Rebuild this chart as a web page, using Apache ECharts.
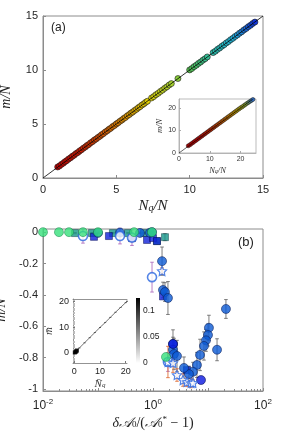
<!DOCTYPE html>
<html><head><meta charset="utf-8">
<script src="https://cdn.jsdelivr.net/npm/echarts@6/dist/echarts.min.js"></script>
<style>html,body{margin:0;padding:0;background:#fff}#c{width:291px;height:435px}</style>
</head><body><div id="c"></div>
<script>
// ---------- Panel (a) main: m/N vs Nq/N ----------
var aNq = [1.0,1.12,1.25,1.38,1.5,1.62,1.75,1.88,2.0,2.12,2.25,2.38,2.5,2.62,2.75,2.88,3.0,3.12,3.25,3.38,3.5,3.62,3.75,3.88,4.0,4.12,4.25,4.38,4.5,4.62,4.75,4.88,5.0,5.12,5.25,5.38,5.5,5.62,5.75,5.88,6.0,6.12,6.25,6.38,6.5,6.62,6.75,6.88,7.0,7.12,
  7.4,7.55,7.7,7.85,8.0,8.15,8.3,8.45,8.6,8.75,
  9.2,
  10.0,10.15,10.3,10.45,10.6,10.75,10.9,11.05,11.2,
  11.6,11.75,11.9,12.05,12.2,12.35,12.5,12.65,12.8,12.95,13.1,13.25,13.4,13.55,13.7,13.85,14.0,14.15,14.3,14.45];
var aM = [1.02,1.11,1.26,1.37,1.51,1.61,1.76,1.87,2.01,2.11,2.26,2.37,2.51,2.61,2.76,2.87,3.01,3.11,3.26,3.37,3.51,3.61,3.76,3.87,4.01,4.11,4.26,4.37,4.51,4.61,4.76,4.87,5.01,5.11,5.26,5.37,5.51,5.61,5.76,5.87,6.01,6.11,6.26,6.37,6.51,6.61,6.76,6.87,7.01,7.11,
  7.41,7.54,7.71,7.84,8.01,8.14,8.31,8.44,8.61,8.74,
  9.21,
  10.01,10.14,10.31,10.44,10.61,10.74,10.91,11.04,11.21,
  11.61,11.74,11.91,12.04,12.21,12.34,12.51,12.64,12.81,12.94,13.11,13.24,13.41,13.54,13.71,13.84,14.01,14.14,14.31,14.44];
var aLine = [[0,0],[15,15]];
// ---------- Panel (a) inset ----------
var aInNq = [3.0,3.5,4.0,4.5,5.0,5.5,6.0,6.5,7.0,7.5,8.0,8.5,9.0,9.5,10.0,10.5,11.0,11.5,12.0,12.5,13.0,13.5,14.0,14.5,15.0,15.5,16.0,16.5,17.0,17.5,18.0,18.5,19.0,19.5,20.0,20.5,21.0,21.5,22.0,22.5,23.0,23.5,24.0,24.5];
var aInM  = [3.2,3.6,4.1,4.6,5.1,5.6,6.1,6.6,7.1,7.6,8.1,8.6,9.1,9.6,10.1,10.6,11.1,11.6,12.1,12.6,13.1,13.6,14.1,14.6,15.1,15.6,16.1,16.6,17.1,17.6,18.1,18.6,19.1,19.6,20.1,20.5,21.0,21.5,22.0,22.4,22.9,23.3,23.8,24.2];
var aInLine = [[0,0],[25,25]];
// ---------- Panel (b) main: m/N vs dA0/(A0*-1) ----------
var greenX = [0.01,0.0195,0.0297,0.0533,0.1,0.452,0.955,1.72];
var greenY = [0,0,0,0,0,0,0,-0.796];
var tealX = [0.0382,0.0778,0.187,0.351,0.686,1.18,1.65];
var tealY = [-0.006,-0.006,-0.006,-0.006,-0.006,-0.057,-0.032];
var tealE = [0.004,0.004,0.004,0.004,0.004,0.01,0.022];
var blueX = [0.1,0.251,0.58,0.88,0.96,1.46,1.52,1.65,1.87,21.2,10.4,14.6,10.0,9.2,8.45,7.16,6.3,5.34,4.5,3.66,2.31,2.31,2.41,2.73];
var blueY = [-0.005,-0.003,-0.005,-0.004,0.0,-0.185,-0.369,-0.382,-0.42,-0.49,-0.61,-0.75,-0.656,-0.69,-0.726,-0.783,-0.847,-0.89,-0.905,-0.866,-0.713,-0.75,-0.777,-0.79];
var blueE = [0.005,0.005,0.005,0.005,0.005,0.09,0.05,0.06,0.105,0.06,0.08,0.07,0.07,0.07,0.09,0.1,0.08,0.06,0.05,0.07,0.09,0.08,0.1,0.1];
var navyX = [0.0845,0.158,0.415,0.778,1.0,1.18,1.52,4.15];
var navyY = [-0.03,-0.025,-0.038,-0.05,-0.038,-0.057,-0.41,-0.88];
var navyCX = [7.46,2.31];
var navyCY = [-0.943,-0.713];
var openX = [0.0533,0.251,0.415,0.96,1.87];
var openY = [-0.025,-0.025,-0.035,-0.287,-0.828];
var openE = [0.045,0.05,0.05,0.095,0.06];
var starX = [1.46,1.87,2.31,2.73,3.51,4.15,4.91,5.34];
var starY = [-0.248,-0.828,-0.834,-0.911,-0.943,-0.955,-0.962,-0.962];
var starE = [0.02,0.1,0.06,0.04,0.04,0.03,0.03,0.02];
// ---------- Panel (b) inset ----------
var bInNq = [0.2,0.5,0.8,1.0];
var bInM = [0.1,0.3,0.6,0.9];
var bInLineX = [0,2,4,6,8,10,12,14,16,18,20,20.5];
var bInLineY = [0,1.9,3.9,5.9,7.9,9.9,11.8,13.8,15.8,17.7,19.6,20.1];
var cbarMax = [0.125];

function pairs(x,y){return x.map(function(v,i){return [v,y[i]];});}
function errs(x,y,e){return x.map(function(v,i){return [v,y[i]-e[i],y[i]+e[i]];});}

var chart = echarts.init(document.getElementById('c'), null, {renderer:'canvas'});
var TICK = '#262626', AXC = '#8c8c8c';
var serif = 'Liberation Serif';
var sans = 'Liberation Sans';

function errRender(color){
  return function(params, api){
    var x = api.value(0), lo = api.value(1), hi = api.value(2);
    var p1 = api.coord([x, lo]), p2 = api.coord([x, hi]);
    var w = 1.8;
    var st = {stroke: color, lineWidth: 0.9};
    return {type:'group', children:[
      {type:'line', shape:{x1:p1[0],y1:p1[1],x2:p2[0],y2:p2[1]}, style:st},
      {type:'line', shape:{x1:p1[0]-w,y1:p1[1],x2:p1[0]+w,y2:p1[1]}, style:st},
      {type:'line', shape:{x1:p2[0]-w,y1:p2[1],x2:p2[0]+w,y2:p2[1]}, style:st}
    ]};
  };
}
function errSeries(x,y,e,color){
  return {type:'custom', xAxisIndex:2, yAxisIndex:2, renderItem: errRender(color), data: errs(x,y,e), encode:{x:0,y:[1,2]}, z:2, clip:false, silent:true};
}
var STAR = 'path://M0,-10L2.9,-4L9.5,-3.1L4.8,1.5L5.9,8.1L0,5L-5.9,8.1L-4.8,1.5L-9.5,-3.1L-2.9,-4Z';

function mainAxis(o){
  var base = {
    axisLine:{show:true, onZero:false, lineStyle:{color:AXC, width:1}},
    axisTick:{show:true, inside:true, length:3, lineStyle:{color:AXC}},
    axisLabel:{color:TICK, fontFamily:sans, fontSize:11},
    splitLine:{show:false}
  };
  for (var k in o) base[k] = o[k];
  return base;
}
var richMain = {
  i:{fontFamily:serif, fontStyle:'italic', fontSize:15, color:'#222', padding:[0,0,3,0]},
  s:{fontFamily:serif, fontStyle:'italic', fontSize:10, color:'#222'}
};
var richSmall = {
  i:{fontFamily:serif, fontStyle:'italic', fontSize:8.5, color:'#333', padding:[0,0,2,0]},
  s:{fontFamily:serif, fontStyle:'italic', fontSize:6, color:'#333'}
};
var richB = {
  i:{fontFamily:serif, fontStyle:'italic', fontSize:14, color:'#222', padding:[0,0,3,0]},
  r:{fontFamily:serif, fontSize:14, color:'#222', padding:[0,0,3,0]},
  s:{fontFamily:serif, fontSize:9, color:'#222'},
  p:{fontFamily:serif, fontSize:9, color:'#222', padding:[0,0,10,0]}
};
var yName = {fontFamily:serif, fontStyle:'italic', fontSize:14, color:'#222'};

var option = {
  animation:false,
  backgroundColor:'#fff',
  grid:[
    {left:43, top:16, width:220, height:162, show:true, borderColor:AXC, borderWidth:1, containLabel:false, outerBoundsMode:'none'},
    {left:179, top:99, width:77, height:54, show:true, borderColor:'#aaa', borderWidth:0.8, backgroundColor:'#fff', containLabel:false, outerBoundsMode:'none'},
    {left:43, top:229, width:220, height:162, show:true, borderColor:AXC, borderWidth:1, containLabel:false, outerBoundsMode:'none'},
    {left:73, top:299, width:54, height:64, show:false, containLabel:false, outerBoundsMode:'none'},
    {left:136, top:298, width:4, height:65, show:false, containLabel:false, outerBoundsMode:'none'}
  ],
  visualMap:[
    {type:'continuous', show:false, seriesIndex:0, dimension:0, min:1, max:14.5,
     inRange:{color:['#c80000','#d41800','#dc5400','#e69200','#e6d000','#b4d428','#58c450','#2cc0a8','#22b4dc','#1030d8']}},
    {type:'continuous', show:false, seriesIndex:2, dimension:0, min:3, max:24.5,
     inRange:{color:['#c00000','#c00000','#c01000','#c02c00','#c05000','#c07800','#b8a000','#80a030','#2060e0']}}
  ],
  graphic:[
    {type:'text', left:51, top:22, style:{text:'(a)', font:'12px "Liberation Sans"', fill:'#222'}},
    {type:'text', left:238, top:236, style:{text:'(b)', font:'13px "Liberation Sans"', fill:'#222'}}
  ],
  xAxis:[
    mainAxis({gridIndex:0, type:'value', min:0, max:15, interval:5, axisLabel:{color:TICK, fontFamily:sans, fontSize:11, margin:6},
      name:'{i|N}{s|q}{i|/N}', nameLocation:'middle', nameGap:21, nameTextStyle:{rich:richMain}}),
    mainAxis({gridIndex:1, type:'value', min:0, max:25, axisLine:{show:true,onZero:false,lineStyle:{color:'#aaa',width:0.8}},
      axisTick:{show:true, inside:true, length:2, lineStyle:{color:'#aaa'}, customValues:[0,10,20]},
      axisLabel:{color:'#333', fontFamily:sans, fontSize:7, margin:3, customValues:[0,10,20]},
      name:'{i|N}{s|q}{i|/N}', nameLocation:'middle', nameGap:13, nameTextStyle:{rich:richSmall}}),
    mainAxis({gridIndex:2, type:'log', min:0.01, max:100, logBase:10,
      axisTick:{show:true, inside:true, length:3, lineStyle:{color:AXC}},
      minorTick:{show:true, splitNumber:9, length:2, lineStyle:{color:AXC}},
      axisLabel:{color:TICK, fontFamily:sans, fontSize:11, margin:7,
        formatter:function(v){var e=Math.round(Math.log10(v)); if(e%2!==0) return ''; return '{b|10}{e|'+e+'}';},
        rich:{b:{fontFamily:sans, fontSize:12, color:TICK}, e:{fontFamily:sans, fontSize:8, color:TICK, padding:[0,0,8,0]}}},
      name:'{i|δ𝒜}{s|0}{r|/(}{i|𝒜}{s|0}{p|*}{r| − 1)}', nameLocation:'middle', nameGap:24, nameTextStyle:{rich:richB}}),
    mainAxis({gridIndex:3, type:'value', min:-0.5, max:20.5,
      axisLine:{show:true,onZero:false,lineStyle:{color:'#777',width:0.8}},
      axisTick:{show:true, inside:true, length:2, lineStyle:{color:'#777'}, customValues:[0,10,20]},
      axisLabel:{color:'#222', fontFamily:sans, fontSize:9, margin:4, customValues:[0,10,20]},
      name:'{i|N̄}{s|q}', nameLocation:'middle', nameGap:16, nameTextStyle:{rich:{i:{fontFamily:serif,fontStyle:'italic',fontSize:11,color:'#333',padding:[0,0,2,0]}, s:{fontFamily:serif,fontStyle:'italic',fontSize:7,color:'#333'}}}}),
    {gridIndex:4, type:'category', data:['c'], show:false},
    {gridIndex:3, type:'value', position:'top', min:-0.5, max:20.5, axisLine:{show:true,onZero:false,lineStyle:{color:'#777',width:0.8}}, axisTick:{show:false}, axisLabel:{show:false}, splitLine:{show:false}}
  ],
  yAxis:[
    mainAxis({gridIndex:0, type:'value', min:0, max:15, interval:5, axisLabel:{color:TICK, fontFamily:sans, fontSize:11, margin:5},
      name:'m/N', nameLocation:'middle', nameGap:30, nameRotate:90, nameTextStyle:yName}),
    mainAxis({gridIndex:1, type:'value', min:0, max:24, axisLine:{show:true,onZero:false,lineStyle:{color:'#aaa',width:0.8}},
      axisTick:{show:true, inside:true, length:2, lineStyle:{color:'#aaa'}, customValues:[0,10,20]},
      axisLabel:{color:'#333', fontFamily:sans, fontSize:7, margin:3, customValues:[0,10,20]},
      name:'m/N', nameLocation:'middle', nameGap:12, nameRotate:90, nameTextStyle:{fontFamily:serif, fontStyle:'italic', fontSize:8.5, color:'#333'}}),
    mainAxis({gridIndex:2, type:'value', min:-1.013, max:0.02,
      axisTick:{show:true, inside:true, length:3, lineStyle:{color:AXC}, customValues:[-1,-0.8,-0.6,-0.4,-0.2,0]},
      axisLabel:{color:TICK, fontFamily:sans, fontSize:11, margin:5, customValues:[-1,-0.8,-0.6,-0.4,-0.2,0]},
      name:'m/N', nameLocation:'middle', nameGap:32, nameRotate:90, nameTextStyle:yName}),
    mainAxis({gridIndex:3, type:'value', min:-4, max:21,
      axisLine:{show:true,onZero:false,lineStyle:{color:'#777',width:0.8}},
      axisTick:{show:true, inside:true, length:2, lineStyle:{color:'#777'}, customValues:[0,10,20]},
      minorTick:{show:true, splitNumber:10, length:2, lineStyle:{color:'#bbb'}},
      axisLabel:{color:'#222', fontFamily:sans, fontSize:9, margin:4, customValues:[0,10,20]},
      name:'m̄', nameLocation:'middle', nameGap:17, nameRotate:90, nameTextStyle:{fontFamily:serif, fontStyle:'italic', fontSize:11, color:'#333'}}),
    {gridIndex:4, type:'value', min:0, max:0.125, position:'right',
      axisLine:{show:false}, axisTick:{show:false}, splitLine:{show:false},
      axisLabel:{color:'#222', fontFamily:sans, fontSize:8.5, margin:3, customValues:[0,0.05,0.1]}}
  ],
  series:[
    {type:'scatter', xAxisIndex:0, yAxisIndex:0, data:pairs(aNq,aM), symbolSize:6, itemStyle:{borderColor:'#1a1a1a', borderWidth:0.6, opacity:1}, z:3},
    {type:'line', xAxisIndex:0, yAxisIndex:0, data:aLine, symbol:'none', lineStyle:{color:'#000', width:0.8}, z:4},
    {type:'scatter', xAxisIndex:1, yAxisIndex:1, data:pairs(aInNq,aInM), symbolSize:4, itemStyle:{borderColor:'#1a1a1a', borderWidth:0.5, opacity:1}, z:6},
    {type:'line', xAxisIndex:1, yAxisIndex:1, data:aInLine, symbol:'none', lineStyle:{color:'#000', width:0.6}, z:7},
    errSeries(blueX, blueY, blueE, '#6e6e6e'),
    errSeries(tealX, tealY, tealE, '#6e6e6e'),
    errSeries(openX, openY, openE, '#b070c0'),
    errSeries(starX, starY, starE, '#e0703a'),
    {type:'scatter', xAxisIndex:2, yAxisIndex:2, data:pairs(tealX,tealY), symbol:'rect', symbolSize:7, itemStyle:{color:'#16968a', borderColor:'#0b3d44', borderWidth:0.6}, z:3, clip:false},
    {type:'scatter', xAxisIndex:2, yAxisIndex:2, data:pairs(navyX,navyY), symbol:'rect', symbolSize:7, itemStyle:{color:'#1020d8', borderColor:'#050a50', borderWidth:0.6}, z:3, clip:false},
    {type:'scatter', xAxisIndex:2, yAxisIndex:2, data:pairs(blueX,blueY), symbol:'circle', symbolSize:9, itemStyle:{color:'#0b5ad4', borderColor:'#0a1f5a', borderWidth:0.7}, z:4, clip:false},
    {type:'scatter', xAxisIndex:2, yAxisIndex:2, data:pairs(navyCX,navyCY), symbol:'circle', symbolSize:9, itemStyle:{color:'#0a18e0', borderColor:'#050a50', borderWidth:0.7}, z:4, clip:false},
    {type:'scatter', xAxisIndex:2, yAxisIndex:2, data:pairs(openX,openY), symbol:'circle', symbolSize:9, itemStyle:{color:'#ffffff', borderColor:'#2a66e0', borderWidth:1.6}, z:5, clip:false},
    {type:'scatter', xAxisIndex:2, yAxisIndex:2, data:pairs(starX,starY), symbol:STAR, symbolSize:9, itemStyle:{color:'#ffffff', borderColor:'#2a66e0', borderWidth:1.2}, z:5, clip:false},
    {type:'scatter', xAxisIndex:2, yAxisIndex:2, data:pairs(greenX,greenY), symbol:'circle', symbolSize:9, itemStyle:{color:'#36e07a', borderColor:'#138048', borderWidth:0.6}, z:6, clip:false},
    {type:'line', xAxisIndex:3, yAxisIndex:3, data:pairs(bInLineX,bInLineY), symbol:'rect', symbolSize:[2,1], itemStyle:{color:'#555'}, lineStyle:{color:'#333', width:0.7}, z:8},
    {type:'scatter', xAxisIndex:3, yAxisIndex:3, data:pairs(bInNq,bInM), symbol:'rect', symbolSize:4, itemStyle:{color:'#000'}, z:9},
    {type:'bar', xAxisIndex:4, yAxisIndex:4, data:cbarMax, barWidth:'100%',
      itemStyle:{color:new echarts.graphic.LinearGradient(0,0,0,1,[{offset:0,color:'#000'},{offset:1,color:'#fff'}])}, z:8}
  ]
};
chart.setOption(option);
</script>
</body></html>
